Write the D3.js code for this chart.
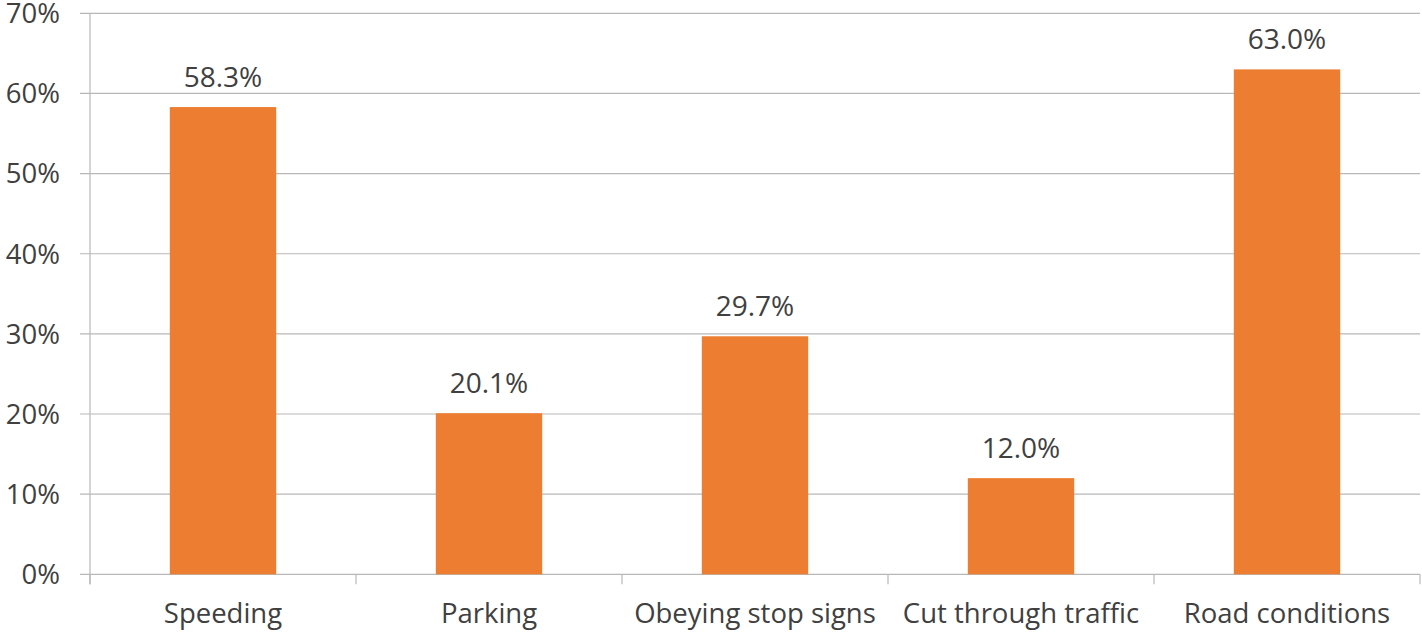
<!DOCTYPE html>
<html><head><meta charset="utf-8">
<script src="https://cdn.jsdelivr.net/npm/d3@7"></script>
<style>body{margin:0;background:#fff;}svg{display:block;font-family:"Open Sans",sans-serif;}</style>
</head><body>
<svg id="c" width="1422" height="632"></svg>
<script>
const categories = ["Speeding","Parking","Obeying stop signs","Cut through traffic","Road conditions"];
const values = [58.3, 20.1, 29.7, 12.0, 63.0];
const yTicks = [0,10,20,30,40,50,60,70];

const svg = d3.select("#c");
const m = {left:90, right:2, top:13.3, bottom:632-574.3};
const W = 1422, H = 632;
const x = d3.scaleBand().domain(categories).range([m.left, W-m.right]).paddingInner(0.6).paddingOuter(0.3);
const y = d3.scaleLinear().domain([0,70]).range([H-m.bottom, m.top]);
const textCol = "#404040", gridCol = "#b8b8b8";

// gridlines
svg.append("g").selectAll("line").data(yTicks).join("line")
  .attr("x1", m.left-10).attr("x2", W-m.right)
  .attr("y1", d=>y(d)).attr("y2", d=>y(d))
  .attr("stroke", gridCol).attr("stroke-width",1.2);
// y axis line
svg.append("line").attr("x1",m.left).attr("x2",m.left).attr("y1",y(70)).attr("y2",y(0)+10)
  .attr("stroke",gridCol).attr("stroke-width",1.2);
// y labels
svg.append("g").selectAll("text").data(yTicks).join("text")
  .attr("x", 60).attr("y", d=>y(d)).attr("dy","0.36em")
  .attr("text-anchor","end").attr("fill",textCol).attr("font-size",27.5)
  .text(d=>d+"%");
// x ticks at band boundaries
const bounds = d3.range(categories.length+1).map(i=>m.left + i*(W-m.right-m.left)/categories.length);
svg.append("g").selectAll("line").data(bounds).join("line")
  .attr("x1",d=>d).attr("x2",d=>d).attr("y1",y(0)).attr("y2",y(0)+10)
  .attr("stroke",gridCol).attr("stroke-width",1.2);
// bars
svg.append("g").selectAll("rect").data(values).join("rect")
  .attr("x",(d,i)=>x(categories[i])).attr("width",x.bandwidth())
  .attr("y",d=>y(d)).attr("height",d=>y(0)-y(d))
  .attr("fill","#ED7D31");
// value labels
svg.append("g").selectAll("text").data(values).join("text")
  .attr("x",(d,i)=>x(categories[i])+x.bandwidth()/2).attr("y",d=>y(d)-20)
  .attr("text-anchor","middle").attr("fill",textCol).attr("font-size",28)
  .text(d=>d.toFixed(1)+"%");
// category labels
svg.append("g").selectAll("text").data(categories).join("text")
  .attr("x",d=>x(d)+x.bandwidth()/2).attr("y",623)
  .attr("text-anchor","middle").attr("fill",textCol).attr("font-size",27.5)
  .text(d=>d);
</script>
</body></html>
